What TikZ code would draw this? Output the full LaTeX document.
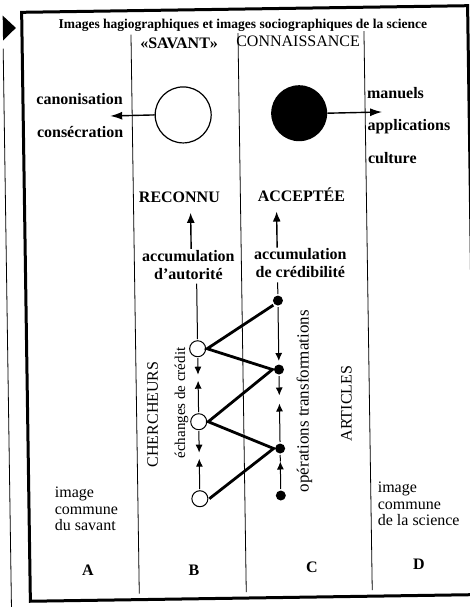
\documentclass[tikz,border=0pt]{standalone}
\usepackage{fontspec}
\setmainfont{Liberation Serif}
\usetikzlibrary{positioning}
\usetikzlibrary{arrows.meta}
\usetikzlibrary{calc}

\begin{document}
\begin{tikzpicture}[
    x=1pt, y=-1pt,
    tag/.style={font=\fontsize{16}{18}\selectfont\bfseries, inner sep=1pt},
    plain/.style={font=\fontsize{16}{18}\selectfont, inner sep=1pt},
    vtext/.style={font=\fontsize{16}{18}\selectfont, rotate=90, inner sep=1pt},
    common/.style={font=\fontsize{16}{16.5}\selectfont, align=left, anchor=north west, inner sep=0pt},
    person/.style={draw, circle, minimum size=16pt, inner sep=0pt, line width=1pt, fill=white, outer sep=1.5pt},
    paper/.style={circle, fill=black, minimum size=10pt, inner sep=0pt, outer sep=1.5pt},
    flow/.style={-{Latex[length=8pt,width=7pt]}, line width=1pt},
    rise/.style={-{Latex[length=10pt,width=8pt]}, line width=1.4pt},
    spread/.style={-{Latex[length=12pt,width=8pt]}, line width=1.4pt},
    zig/.style={line width=2.8pt, line join=miter},
    divider/.style={line width=0.8pt}
]
    \useasboundingbox (0,0) rectangle (469,607);
    \fill[white] (0,0) rectangle (469,607);

    \begin{scope}[rotate around={0.85:(247,305)}]
    % margin mark and frame
    \fill (7,12) -- (7,37) -- (20,24.5) -- cycle;
    \draw[line width=0.8pt] (7,45) -- (7,612);
    \draw[line width=3pt] (26,9) rectangle (472,598);

    % column dividers
    \draw[divider] (135,33) -- (135,592);
    \draw[divider] (242,33) -- (242,592);
    \draw[divider] (368,33) -- (368,592);

    % headings
    \node[font=\fontsize{13.5}{16}\selectfont\bfseries] (title) at (247,25)
        {Images hagiographiques et images sociographiques de la science};
    \node[tag] (savant) at (183,42) {«SAVANT»};
    \node[plain] (connaissance) at (302,42) {CONNAISSANCE};

    % big circles
    \node[draw, circle, minimum size=56pt, line width=1.2pt] (sage) at (186,114) {};
    \node[circle, fill=black, minimum size=56pt] (lore) at (302,114) {};
    \coordinate (toleft) at (113,114);
    \coordinate (toright) at (385,114);
    \draw[spread] (sage.west) -- (toleft);
    \draw[spread] (lore.east) -- (toright);

    \node[tag, anchor=east] (canon) at (127,97) {canonisation};
    \node[tag, anchor=east] (consec) at (127,130) {consécration};
    \node[tag, anchor=west] (manuels) at (369,95) {manuels};
    \node[tag, anchor=west] (applic) at (369,128) {applications};
    \node[tag, anchor=west] (culture) at (369,160) {culture};

    \node[tag] (reconnu) at (181,196) {RECONNU};
    \node[tag] (acceptee) at (303,196) {ACCEPTÉE};

    \node[tag, align=center] (accB) at (189,264) {accumulation\\d’autorité};
    \node[tag, align=center] (accC) at (301,264) {accumulation\\de crédibilité};
    \coordinate (upB) at (192,212);
    \coordinate (upC) at (278,212);
    \draw[rise] (accB.north -| upB) -- (upB);
    \draw[rise] (accC.north -| upC) -- (upC);

    % researchers and papers
    \node[person] (c1) at (197,348) {};
    \node[person] (c2) at (197,421) {};
    \node[person] (c3) at (197,498) {};
    \node[paper] (d1) at (278,301) {};
    \node[paper] (d2) at (278,370) {};
    \node[paper] (d3) at (278,449) {};
    \node[paper] (d4) at (278,496) {};

    \draw[line width=1pt] (accB.south -| c1) ++(0,3) -- (c1);
    \draw[line width=1pt] (accC.south -| d1) ++(0,3) -- (d1);

    \draw[zig] (d1.south west) -- (c1.east) -- (d2.west) -- (c2.east) -- (d3.west) -- (c3.east);

    % exchanges
    \coordinate (b1) at (197,374);
    \coordinate (b2) at (197,380);
    \coordinate (b3) at (197,452);
    \coordinate (b4) at (197,458);
    \draw[flow] (c1) -- (b1);
    \draw[flow] (c2) -- (b2);
    \draw[flow] (c2) -- (b3);
    \draw[flow] (c3) -- (b4);

    \coordinate (k1) at (278,396);
    \coordinate (k2) at (278,404);
    \coordinate (k3) at (278,462);
    \draw[flow, shorten >=2pt] (d1) -- (d2);
    \draw[flow] (d2) -- (k1);
    \draw[flow] (d3) -- (k2);
    \draw[line width=1pt] (d3) -- (k3);
    \draw[flow] (d4) -- (k3);

    % vertical labels
    \node[vtext] (chercheurs) at (151,413) {CHERCHEURS};
    \node[vtext, font=\fontsize{15}{17}\selectfont] (echanges) at (180,402) {échanges de crédit};
    \node[vtext, font=\fontsize{17}{19}\selectfont] (operations) at (303,402) {opérations transformations};
    \node[vtext] (articles) at (345,405) {ARTICLES};

    % bottom
    \node[common] (imgA) at (52,484) {image\\commune\\du savant};
    \node[common] (imgD) at (375,484) {image\\commune\\de la science};
    \node[tag] (colA) at (84,568) {A};
    \node[tag] (colB) at (190,569) {B};
    \node[tag] (colC) at (308,568) {C};
    \node[tag] (colD) at (415,567) {D};
    \end{scope}
\end{tikzpicture}
\end{document}
